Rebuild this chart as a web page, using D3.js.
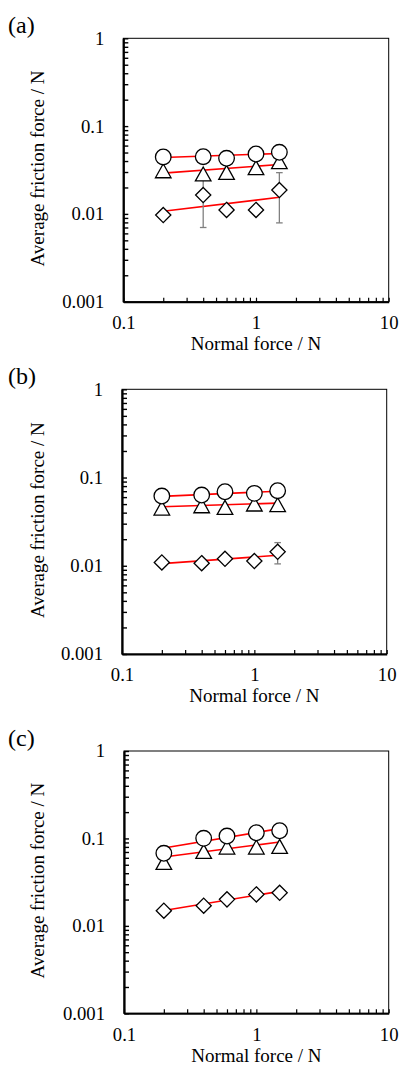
<!DOCTYPE html>
<html>
<head>
<meta charset="utf-8">
<script src="https://cdn.jsdelivr.net/npm/d3@7"></script>
<style>
  body { margin: 0; background: #fff; }
  svg text { font-family: "Liberation Serif", "Times New Roman", serif; fill: #000; }
</style>
</head>
<body>
<div id="chart"></div>
<script>
// normal force values (N), same for every series
var forces = [0.2, 0.4, 0.6, 1.0, 1.5];
var fitRange = [0.2, 1.5];

// panel (a)
var circleA = [0.0445, 0.0448, 0.0430, 0.0481, 0.0503];
var triangleA = [0.0310, 0.0285, 0.0297, 0.0336, 0.0393];
var diamondA = [0.0097, 0.0164, 0.0111, 0.0111, 0.0187];
var diamondErrA = [0, 0.0094, 0, 0, 0.0108];
var circleFitA = [0.0439, 0.0488];
var triangleFitA = [0.0291, 0.0365];
var diamondFitA = [0.0107, 0.01545];

// panel (b)
var circleB = [0.0617, 0.0633, 0.0690, 0.0662, 0.0709];
var triangleB = [0.0451, 0.0479, 0.0459, 0.0501, 0.0492];
var diamondB = [0.0109, 0.0107, 0.0120, 0.0113, 0.0144];
var diamondErrB = [0, 0, 0, 0, 0.0039];
var circleFitB = [0.0612, 0.0700];
var triangleFitB = [0.0466, 0.0513];
var diamondFitB = [0.01057, 0.01315];

// panel (c)
var circleC = [0.0676, 0.1003, 0.1065, 0.1162, 0.1225];
var triangleC = [0.0533, 0.0712, 0.0797, 0.0797, 0.0812];
var diamondC = [0.0149, 0.0170, 0.0201, 0.0229, 0.0239];
var diamondErrC = [0, 0, 0, 0, 0];
var circleFitC = [0.0778, 0.1294];
var triangleFitC = [0.0614, 0.0910];
var diamondFitC = [0.01496, 0.0248];

var panelLabels = ["(a)", "(b)", "(c)"];
var xTickLabels = [0.1, 1, 10];
var yTickLabels = [0.001, 0.01, 0.1, 1];

// plot boxes (left, top, right, bottom)
var boxes = [
  {l: 123.3, t: 38.3, r: 388.7, b: 301.7},
  {l: 122, t: 389.3, r: 386.7, b: 654},
  {l: 124, t: 751, r: 388.7, b: 1013.3}
];

var panels = [
  {circle: circleA, triangle: triangleA, diamond: diamondA, err: diamondErrA,
   fits: [circleFitA, triangleFitA, diamondFitA]},
  {circle: circleB, triangle: triangleB, diamond: diamondB, err: diamondErrB,
   fits: [circleFitB, triangleFitB, diamondFitB]},
  {circle: circleC, triangle: triangleC, diamond: diamondC, err: diamondErrC,
   fits: [circleFitC, triangleFitC, diamondFitC]}
];

var svg = d3.select("#chart").append("svg")
  .attr("width", 400)
  .attr("height", 1069);

// minor + major tick positions for log axes
function logTicks(lo, hi) {
  var t = [];
  for (var e = lo; e < hi; e++) {
    for (var m = 1; m < 10; m++) t.push(m * Math.pow(10, e));
  }
  t.push(Math.pow(10, hi));
  return t;
}

var triPath = "M0,-7L7.8,7L-7.8,7Z";
var diaPath = "M0,-7.6L7.6,0L0,7.6L-7.6,0Z";

panels.forEach(function(p, i) {
  var box = boxes[i];
  var w = box.r - box.l, h = box.b - box.t;

  var g = svg.append("g")
    .attr("transform", "translate(" + box.l + "," + box.t + ")");

  var x = d3.scaleLog().domain([0.1, 10]).range([0, w]);
  var y = d3.scaleLog().domain([0.001, 1]).range([h, 0]);

  // thin frame (top / right)
  g.append("rect")
    .attr("width", w).attr("height", h)
    .attr("fill", "none").attr("stroke", "#000").attr("stroke-width", 1);

  // x axis, ticks pointing in
  var xAxis = g.append("g")
    .attr("transform", "translate(0," + h + ")")
    .call(d3.axisBottom(x)
      .tickValues(logTicks(-1, 1))
      .tickSizeInner(-4).tickSizeOuter(0).tickPadding(14)
      .tickFormat(function(d) { return xTickLabels.indexOf(+d.toPrecision(3)) >= 0 ? d3.format("~g")(d) : ""; }));
  xAxis.select(".domain").attr("stroke-width", 2);
  xAxis.selectAll(".tick line").attr("stroke-width", 1.2);
  xAxis.selectAll("text").style("font-size", "18.7px");

  // y axis, ticks pointing in
  var yAxis = g.append("g")
    .call(d3.axisLeft(y)
      .tickValues(logTicks(-3, 0))
      .tickSizeInner(-5).tickSizeOuter(0).tickPadding(19)
      .tickFormat(function(d) { return yTickLabels.indexOf(+d.toPrecision(3)) >= 0 ? d3.format("~g")(d) : ""; }));
  yAxis.select(".domain").attr("stroke-width", 2.2);
  yAxis.selectAll(".tick line").attr("stroke-width", 1.4);
  yAxis.selectAll("text").style("font-size", "18.7px");

  // axis titles
  g.append("text")
    .attr("x", w / 2).attr("y", h + 48.5)
    .attr("text-anchor", "middle")
    .style("font-size", "19px")
    .text("Normal force / N");

  g.append("text")
    .attr("transform", "translate(" + (44 - box.l) + "," + (h / 2 - 1.5) + ") rotate(-90)")
    .attr("text-anchor", "middle")
    .style("font-size", "19px")
    .text("Average friction force / N");

  // panel label
  svg.append("text")
    .attr("x", 8).attr("y", box.t - 5)
    .style("font-size", "24px")
    .text(panelLabels[i]);

  // power-law trendlines
  p.fits.forEach(function(f) {
    g.append("path")
      .datum(fitRange.map(function(v, k) { return [v, f[k]]; }))
      .attr("d", d3.line()
        .x(function(d) { return x(d[0]); })
        .y(function(d) { return y(d[1]); }))
      .attr("stroke", "#ff0000")
      .attr("stroke-width", 1.6)
      .attr("fill", "none");
  });

  // error bars on diamonds
  var eb = g.append("g").attr("stroke", "#808080").attr("stroke-width", 1.3);
  forces.forEach(function(f, k) {
    var e = p.err[k];
    if (!e) return;
    var cx = x(f), y1 = y(p.diamond[k] + e), y0 = y(p.diamond[k] - e);
    eb.append("line").attr("x1", cx).attr("x2", cx).attr("y1", y1).attr("y2", y0);
    eb.append("line").attr("x1", cx - 3.3).attr("x2", cx + 3.3).attr("y1", y1).attr("y2", y1);
    eb.append("line").attr("x1", cx - 3.3).attr("x2", cx + 3.3).attr("y1", y0).attr("y2", y0);
  });

  // markers
  g.selectAll(".dia").data(forces).enter().append("path")
    .attr("transform", function(d, k) { return "translate(" + x(d) + "," + y(p.diamond[k]) + ")"; })
    .attr("d", diaPath)
    .attr("fill", "#fff").attr("stroke", "#000").attr("stroke-width", 1.3);

  g.selectAll(".tri").data(forces).enter().append("path")
    .attr("transform", function(d, k) { return "translate(" + x(d) + "," + y(p.triangle[k]) + ")"; })
    .attr("d", triPath)
    .attr("fill", "#fff").attr("stroke", "#000").attr("stroke-width", 1.3);

  g.selectAll(".cir").data(forces).enter().append("circle")
    .attr("cx", function(d) { return x(d); })
    .attr("cy", function(d, k) { return y(p.circle[k]); })
    .attr("r", 7.8)
    .attr("fill", "#fff").attr("stroke", "#000").attr("stroke-width", 1.3);
});
</script>
</body>
</html>
